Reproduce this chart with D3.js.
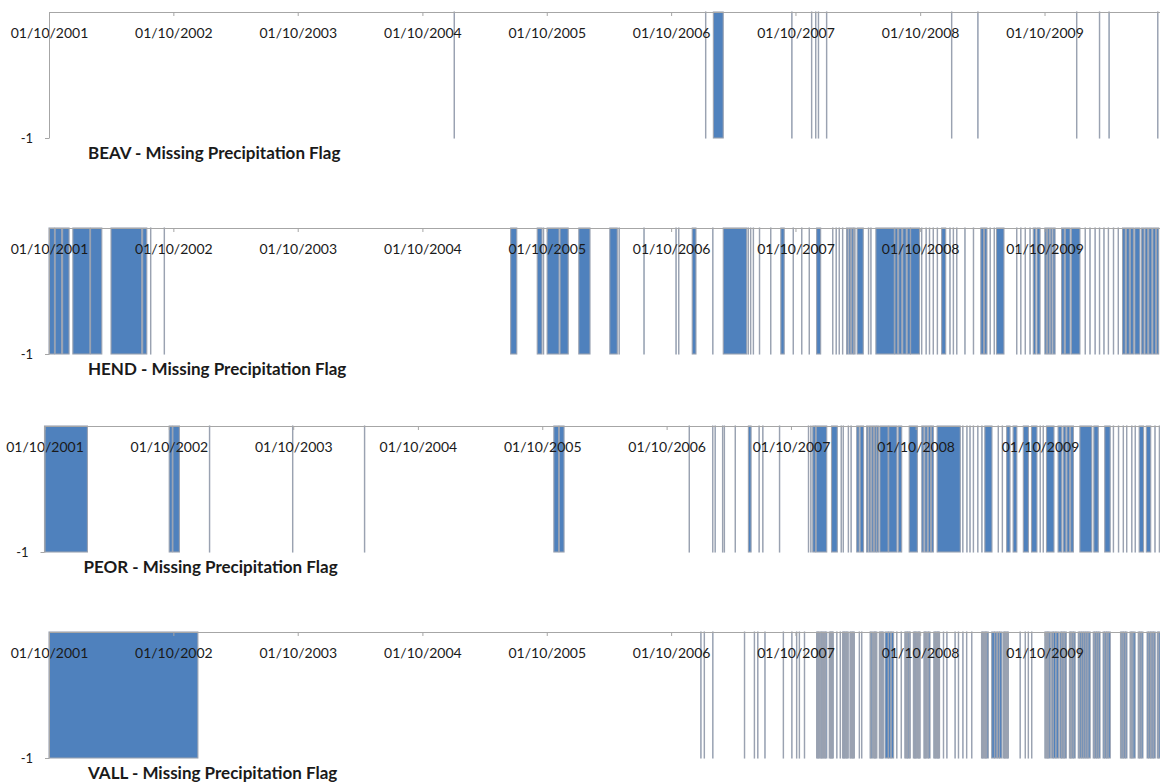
<!DOCTYPE html>
<html>
<head>
<meta charset="utf-8">
<script src="https://cdn.jsdelivr.net/npm/d3@7"></script>
<style>
  body { margin: 0; background: #fff; }
  svg text { font-family: Lato, "Open Sans", sans-serif; fill: #1a1a1a; }
</style>
</head>
<body>
<svg width="1160" height="783"></svg>
<script>
// record starts 01/10/2001, runs of missing precipitation given as [first day, last day]
// counted in days from the start of the record
const recordStart = new Date(2001, 9, 1);
const recordEnd = new Date(2010, 9, 1);
const tickYears = [2001, 2002, 2003, 2004, 2005, 2006, 2007, 2008, 2009];
const flagValues = [0, -1];
const stations = ["BEAV", "HEND", "PEOR", "VALL"];

const beavMissing = [[1189,1189],[1927,1927],[1950,1978],[2180,2180],[2238,2238],[2250,2250],[2258,2258],
  [2282,2282],[2649,2649],[2726,2726],[3016,3016],[3083,3083],[3111,3111],[3254,3254]];

const hendMissing = [[0,15],[18,36],[40,58],[70,119],[122,154],[182,271],[275,286],[298,298],[338,338],
  [1355,1372],[1433,1446],[1451,1451],[1462,1496],[1500,1523],[1555,1587],[1646,1667],[1673,1673],
  [1746,1746],[1840,1840],[1848,1848],[1888,1898],[1948,1948],[1979,2047],[2052,2052],[2059,2059],
  [2067,2067],[2085,2085],[2118,2118],[2148,2157],[2184,2184],[2209,2209],[2231,2231],[2253,2264],
  [2300,2300],[2310,2310],[2319,2319],[2329,2329],[2341,2344],[2348,2352],[2356,2360],[2363,2365],
  [2372,2389],[2405,2405],[2412,2412],[2427,2480],[2483,2490],[2494,2502],[2506,2515],[2519,2527],
  [2529,2554],[2561,2561],[2574,2574],[2584,2584],[2595,2595],[2607,2607],[2620,2631],[2644,2644],
  [2654,2654],[2664,2664],[2688,2688],[2713,2713],[2735,2742],[2746,2752],[2762,2762],[2774,2774],
  [2781,2802],[2840,2840],[2852,2852],[2865,2865],[2879,2879],[2889,2895],[2900,2908],[2923,2927],
  [2931,2935],[2939,2943],[2947,2952],[2972,2979],[2983,2996],[3001,3025],[3041,3041],[3055,3055],
  [3070,3070],[3083,3083],[3096,3096],[3109,3109],[3124,3124],[3138,3138],[3151,3158],[3162,3170],
  [3174,3182],[3187,3201],[3207,3213],[3217,3224],[3228,3236],[3240,3247],[3251,3256]];

const peorMissing = [[0,125],[366,374],[377,395],[484,484],[728,728],[939,939],[1495,1508],[1511,1524],
  [1892,1892],[1961,1961],[1968,1968],[1990,1990],[1995,1995],[2027,2027],[2066,2073],[2097,2097],
  [2108,2108],[2157,2157],[2242,2242],[2249,2249],[2255,2262],[2265,2295],[2310,2326],[2338,2338],
  [2344,2344],[2359,2359],[2367,2367],[2384,2390],[2394,2403],[2413,2416],[2420,2424],[2428,2432],
  [2436,2440],[2443,2447],[2452,2475],[2478,2501],[2506,2515],[2538,2561],[2575,2580],[2584,2590],
  [2594,2600],[2603,2608],[2620,2687],[2695,2695],[2707,2707],[2716,2716],[2726,2726],[2739,2739],
  [2751,2751],[2760,2780],[2799,2799],[2811,2811],[2824,2833],[2843,2853],[2873,2887],[2897,2912],
  [2922,2922],[2931,2931],[2941,2962],[2975,2985],[2990,2997],[3001,3008],[3012,3019],[3039,3073],
  [3080,3092],[3112,3127],[3137,3137],[3152,3152],[3166,3166],[3176,3176],[3191,3191],[3201,3201],
  [3213,3225],[3234,3246],[3259,3259],[3272,3272]];

const vallMissing = [[0,436],[1913,1913],[1923,1923],[1948,1948],[2041,2041],[2070,2070],[2080,2080],
  [2101,2101],[2155,2155],[2180,2180],[2194,2194],[2202,2202],[2217,2217],
  [2253,2255],[2257,2258],[2260,2262],[2265,2266],[2268,2270],[2272,2273],[2276,2277],[2279,2282],
  [2290,2292],[2294,2295],[2297,2298],[2300,2301],[2312,2312],[2322,2322],
  [2329,2331],[2333,2334],[2336,2338],[2340,2341],[2343,2345],[2351,2352],[2354,2356],[2358,2359],
  [2361,2363],[2378,2378],[2385,2385],[2410,2411],[2413,2416],[2420,2421],[2423,2425],[2427,2429],
  [2437,2438],[2440,2442],[2444,2445],[2447,2448],[2454,2462],[2464,2470],[2472,2478],[2488,2488],
  [2501,2501],[2512,2514],[2516,2518],[2520,2523],[2525,2527],[2537,2539],[2541,2542],[2544,2545],
  [2548,2550],[2552,2553],[2555,2556],[2568,2569],[2571,2572],[2574,2575],[2579,2580],[2582,2585],
  [2597,2599],[2601,2602],[2604,2606],[2608,2609],[2611,2613],[2625,2625],[2635,2635],[2659,2659],
  [2669,2669],[2682,2682],[2693,2693],[2708,2708],[2737,2739],[2741,2743],[2745,2747],[2749,2751],
  [2753,2756],[2767,2774],[2776,2781],[2784,2788],[2790,2796],[2801,2803],[2805,2807],[2809,2811],
  [2813,2815],[2850,2850],[2865,2865],[2874,2874],[2884,2884],[2923,2925],[2927,2929],[2931,2933],
  [2935,2938],[2943,2946],[2948,2954],[2956,2962],[2967,2970],[2972,2975],[2977,2980],[2982,2985],
  [2995,2997],[2999,3001],[3003,3006],[3008,3011],[3021,3024],[3026,3030],[3032,3036],[3038,3042],
  [3044,3048],[3050,3055],[3065,3068],[3070,3073],[3075,3078],[3080,3084],[3094,3097],[3099,3102],
  [3104,3107],[3109,3114],[3145,3148],[3150,3153],[3155,3158],[3160,3163],[3173,3175],[3177,3180],
  [3182,3187],[3197,3199],[3201,3204],[3206,3210],[3223,3226],[3228,3231],[3233,3236],[3238,3241],
  [3243,3246],[3253,3256],[3258,3262]];

const missingRuns = [beavMissing, hendMissing, peorMissing, vallMissing];

const svg = d3.select("svg");
const panelTops = [12, 228, 426, 632];
const panelLefts = [49, 49, 44.5, 49];
const plotH = 126;
const yearW = 124.43;

const day = d => d3.timeDay.offset(recordStart, d);
const fmt = d3.timeFormat("%d/%m/%Y");

stations.forEach((name, i) => {
  const top = panelTops[i], left = panelLefts[i];
  const g = svg.append("g");

  const x = d3.scaleTime()
    .domain([recordStart, recordEnd])
    .range([left, left + yearW * 9]);
  const y = d3.scaleLinear()
    .domain(flagValues)
    .range([top, top + plotH]);

  // one rect per run of -1 flags
  g.append("g").selectAll("rect")
    .data(missingRuns[i])
    .join("rect")
      .attr("x", d => x(day(d[0])))
      .attr("width", d => x(day(d[1] + 1)) - x(day(d[0])))
      .attr("y", y(0))
      .attr("height", y(-1) - y(0))
      .attr("fill", "#4f81bd")
      .attr("stroke", "#9aa2b1")
      .attr("stroke-width", 1.1);

  const xAxis = g.append("g")
    .attr("transform", `translate(0,${y(0)})`)
    .call(d3.axisBottom(x)
      .tickValues(tickYears.map(yr => new Date(yr, 9, 1)))
      .tickFormat(fmt)
      .tickSize(4)
      .tickSizeOuter(0)
      .tickPadding(12));
  xAxis.select(".domain").attr("stroke", "#a6a6a6").attr("d", `M${left},0.5H1160`);
  xAxis.selectAll(".tick line").attr("stroke", "#a6a6a6");
  xAxis.selectAll(".tick text").style("font-size", "14px");

  const yAxis = g.append("g")
    .attr("transform", `translate(${left},0)`)
    .call(d3.axisLeft(y)
      .tickValues([-1])
      .tickFormat(d => String(d))
      .tickSize(4)
      .tickSizeOuter(0)
      .tickPadding(12));
  yAxis.select(".domain").attr("stroke", "#a6a6a6");
  yAxis.selectAll(".tick line").attr("stroke", "#a6a6a6");
  yAxis.selectAll(".tick text").style("font-size", "13px");

  g.append("text")
    .attr("x", left + 39)
    .attr("y", top + 147)
    .style("font-size", "17px")
    .style("font-weight", "bold")
    .text(`${name} - Missing Precipitation Flag`);
});
</script>
</body>
</html>
